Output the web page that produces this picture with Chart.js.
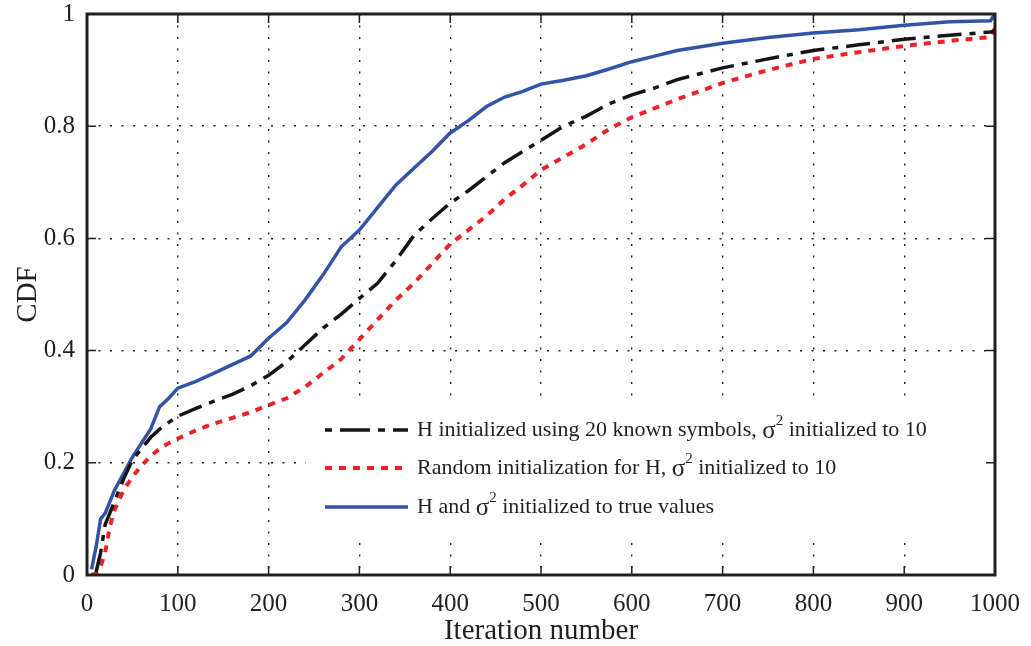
<!DOCTYPE html>
<html lang="en">
  <head>
    <meta charset="UTF-8" />
    <title>CDF of iteration number</title>
    <script src="https://cdn.jsdelivr.net/npm/chart.js"></script>
    <style>
      body { margin: 0; background: #fff; }
      .chart-container { width: 1031px; height: 646px; }
    </style>
  </head>
  <body>
    <div class="chart-container">
      <canvas id="cdfChart"></canvas>
    </div>

    <script>
      // iteration numbers where the curves were read
      const iterations = [5, 10, 15, 20, 25, 30, 40, 50, 60, 70, 80, 90, 100, 120, 140, 160, 180, 200,
        220, 240, 260, 280, 300, 320, 340, 360, 380, 400, 420, 440, 460, 480, 500, 525, 550, 575,
        600, 625, 650, 700, 750, 800, 850, 900, 950, 995, 1000];

      // H initialized using 20 known symbols
      const knownSymbols = [null, 0.005, 0.04, 0.09, 0.11, 0.13, 0.17, 0.205, 0.225, 0.245, 0.26, 0.272,
        0.283, 0.297, 0.31, 0.322, 0.337, 0.356, 0.38, 0.41, 0.44, 0.465, 0.493, 0.52, 0.56, 0.605,
        0.635, 0.663, 0.685, 0.71, 0.735, 0.755, 0.775, 0.8, 0.818, 0.84, 0.856, 0.868, 0.883, 0.904,
        0.92, 0.935, 0.945, 0.955, 0.962, 0.968, 0.97];

      // random initialization for H
      const randomInit = [0.0, 0.003, 0.015, 0.04, 0.085, 0.115, 0.15, 0.175, 0.195, 0.212, 0.225, 0.235,
        0.243, 0.258, 0.27, 0.28, 0.29, 0.303, 0.315, 0.335, 0.36, 0.385, 0.42, 0.455, 0.49, 0.52,
        0.555, 0.59, 0.615, 0.64, 0.67, 0.695, 0.722, 0.745, 0.768, 0.795, 0.816, 0.832, 0.848, 0.877,
        0.9, 0.92, 0.932, 0.943, 0.952, 0.959, 0.975];

      // H and sigma^2 initialized to true values
      const trueValues = [0.01, 0.05, 0.1, 0.11, 0.13, 0.15, 0.18, 0.21, 0.235, 0.26, 0.3, 0.315, 0.333,
        0.345, 0.36, 0.375, 0.39, 0.422, 0.45, 0.49, 0.535, 0.585, 0.615, 0.655, 0.695, 0.725, 0.755,
        0.788, 0.81, 0.835, 0.852, 0.862, 0.875, 0.882, 0.89, 0.902, 0.915, 0.925, 0.935, 0.948, 0.958,
        0.966, 0.972, 0.98, 0.986, 0.988, 1.0];

      const labels = [
        "H initialized using 20 known symbols, σ² initialized to 10",
        "Random initialization for H, σ² initialized to 10",
        "H and σ² initialized to true values",
      ];

      const toPoints = (ys) => iterations.map((x, i) => ({ x: x, y: ys[i] }));

      const serif = "'Liberation Serif', 'DejaVu Serif', serif";
      const ink = "#231f20";

      // legend box (white, covers the grid), frame, inward ticks
      const framePlugin = {
        id: "frame",
        beforeDatasetsDraw(chart) {
          const ctx = chart.ctx;
          ctx.save();
          ctx.fillStyle = "#fff";
          ctx.fillRect(306, 403, 686, 134);
          ctx.restore();
        },
        afterDraw(chart) {
          const { ctx, chartArea: a, scales } = chart;
          ctx.save();
          ctx.strokeStyle = ink;
          ctx.lineWidth = 1.5;
          scales.x.ticks.forEach((t) => {
            const px = scales.x.getPixelForValue(t.value);
            ctx.beginPath();
            ctx.moveTo(px, a.bottom); ctx.lineTo(px, a.bottom - 9);
            ctx.moveTo(px, a.top); ctx.lineTo(px, a.top + 9);
            ctx.stroke();
          });
          scales.y.ticks.forEach((t) => {
            const py = scales.y.getPixelForValue(t.value);
            ctx.beginPath();
            ctx.moveTo(a.left, py); ctx.lineTo(a.left + 9, py);
            ctx.moveTo(a.right, py); ctx.lineTo(a.right - 9, py);
            ctx.stroke();
          });
          ctx.lineWidth = 3;
          ctx.strokeRect(a.left, a.top, a.right - a.left, a.bottom - a.top);

          // legend entries
          const rows = [430, 468, 507];
          ctx.textBaseline = "middle";
          chart.data.datasets.forEach((ds, i) => {
            ctx.beginPath();
            ctx.setLineDash(ds.legendDash || []);
            ctx.strokeStyle = ds.borderColor;
            ctx.lineWidth = ds.borderWidth;
            ctx.moveTo(325, rows[i]); ctx.lineTo(408, rows[i]);
            ctx.stroke();
            ctx.setLineDash([]);
            ctx.fillStyle = ink;
            const parts = ds.label.split("σ²");
            let x = 417;
            ctx.font = "22px " + serif;
            ctx.fillText(parts[0], x, rows[i]);
            x += ctx.measureText(parts[0]).width;
            ctx.font = "25px " + serif;
            ctx.fillText("σ", x, rows[i] + 1);
            x += ctx.measureText("σ").width;
            ctx.font = "15px " + serif;
            ctx.fillText("2", x, rows[i] - 9);
            x += ctx.measureText("2").width;
            ctx.font = "22px " + serif;
            ctx.fillText(parts[1], x, rows[i]);
          });
          ctx.restore();
        },
      };

      const ctx = document.getElementById("cdfChart").getContext("2d");
      new Chart(ctx, {
        type: "line",
        data: {
          datasets: [
            {
              label: labels[0],
              data: toPoints(knownSymbols),
              borderColor: "#151515",
              borderWidth: 3.5,
              borderDash: [24, 8, 6, 8],
              legendDash: [7, 8, 30, 8],
              pointRadius: 0,
            },
            {
              label: labels[1],
              data: toPoints(randomInit),
              borderColor: "#ec2227",
              borderWidth: 4,
              borderDash: [7, 7],
              legendDash: [7, 7],
              pointRadius: 0,
            },
            {
              label: labels[2],
              data: toPoints(trueValues),
              borderColor: "#3353a8",
              borderWidth: 3.5,
              pointRadius: 0,
            },
          ],
        },
        options: {
          responsive: true,
          maintainAspectRatio: false,
          animation: false,
          layout: { padding: { top: 14, right: 36, left: 0, bottom: 0 } },
          plugins: { legend: { display: false }, tooltip: { enabled: false } },
          scales: {
            x: {
              type: "linear",
              min: 0,
              max: 1000,
              ticks: {
                stepSize: 100, color: ink, font: { family: serif, size: 25 }, padding: 14,
                callback: (v) => String(v),
              },
              grid: { color: ink, lineWidth: 1.4, drawTicks: false },
              border: { display: false, dash: [2, 9.5] },
              title: { display: true, text: "Iteration number", color: ink,
                font: { family: serif, size: 29, lineHeight: 1 }, padding: { top: 0, bottom: 0 } },
              afterFit: (axis) => {
                axis.height = 71;
                axis.paddingLeft = 0;
                axis.paddingRight = 0;
              },
            },
            y: {
              min: 0,
              max: 1,
              ticks: {
                stepSize: 0.2, color: ink, font: { family: serif, size: 25 }, padding: 12,
                callback: (v) => String(Math.round(v * 10) / 10),
              },
              grid: { color: ink, lineWidth: 1.4, drawTicks: false },
              border: { display: false, dash: [2, 9.5] },
              title: { display: true, text: "CDF", color: ink,
                font: { family: serif, size: 29, lineHeight: 1 }, padding: { top: 14, bottom: 0 } },
              afterFit: (axis) => {
                axis.width = 87;
                axis.paddingTop = 0;
                axis.paddingBottom = 0;
              },
            },
          },
        },
        plugins: [framePlugin],
      });
    </script>
  </body>
</html>
